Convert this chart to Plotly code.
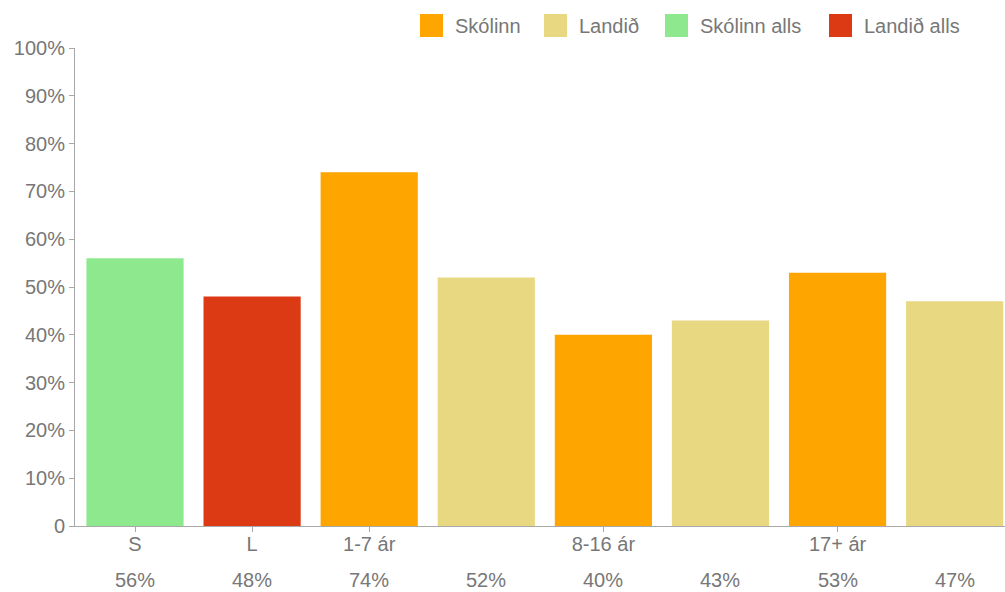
import plotly.graph_objects as go

# ---- data ----
categories = ["S", "L", "1-7 ár", "", "8-16 ár", "", "17+ ár", ""]
series_names = ["Skólinn", "Landið", "Skólinn alls", "Landið alls"]
values = [56, 48, 74, 52, 40, 43, 53, 47]
bar_series = ["Skólinn alls", "Landið alls", "Skólinn", "Landið", "Skólinn", "Landið", "Skólinn", "Landið"]
y_tick_vals = [0, 10, 20, 30, 40, 50, 60, 70, 80, 90, 100]
y_tick_text = ["0", "10%", "20%", "30%", "40%", "50%", "60%", "70%", "80%", "90%", "100%"]

colors = {
    "Skólinn": "#FFA500",
    "Landið": "#E9D882",
    "Skólinn alls": "#8EE98E",
    "Landið alls": "#DB3A14",
}

FONT = "Liberation Sans, Arial, sans-serif"
TXT = "#777777"
AXIS = "#A8A8A8"

W, H = 1005, 592
L, R, T, B = 75, 0, 48, 66
pw, ph = W - L - R, H - T - B


def px_x(px):
    return (px - L) / pw


def px_y(py):
    return (H - B - py) / ph


fig = go.Figure()
xs = list(range(len(values)))
for name in series_names:
    idx = [i for i in xs if bar_series[i] == name]
    fig.add_trace(go.Bar(
        x=[xs[i] for i in idx],
        y=[values[i] for i in idx],
        name=name,
        marker=dict(color=colors[name], line=dict(width=0)),
        width=0.83,
        showlegend=False,
        hoverinfo="x+y",
    ))

# value row under the axis
annotations = []
for i, v in enumerate(values):
    annotations.append(dict(
        x=i, y=px_y(580), xref="x", yref="paper", text=f"{v}%",
        showarrow=False, xanchor="center", yanchor="middle",
        font=dict(family=FONT, size=20, color=TXT),
    ))

# manual legend
legend_sq_x = [420, 544, 665, 829]
shapes = []
for name, sx in zip(series_names, legend_sq_x):
    shapes.append(dict(
        type="rect", xref="paper", yref="paper",
        x0=px_x(sx), x1=px_x(sx + 23), y0=px_y(37), y1=px_y(14),
        fillcolor=colors[name], line=dict(width=0),
    ))
    annotations.append(dict(
        x=px_x(sx + 33), y=px_y(26), xref="paper", yref="paper", text=name,
        showarrow=False, xanchor="left", yanchor="middle",
        font=dict(family=FONT, size=20, color=TXT),
    ))

tick_idx = [i for i, c in enumerate(categories) if c]
fig.update_layout(
    width=W, height=H,
    margin=dict(l=L, r=R, t=T, b=B),
    plot_bgcolor="white", paper_bgcolor="white",
    barmode="overlay",
    font=dict(family=FONT, size=20, color=TXT),
    xaxis=dict(
        range=[-0.5125, 7.43],
        tickmode="array", tickvals=tick_idx, ticktext=[categories[i] for i in tick_idx],
        showline=True, linecolor=AXIS, linewidth=1,
        ticks="outside", ticklen=5, tickcolor=AXIS,
        ticklabelstandoff=-5,
        showgrid=False, zeroline=False,
        tickfont=dict(family=FONT, size=20, color=TXT),
    ),
    yaxis=dict(
        range=[0, 100],
        tickmode="array", tickvals=y_tick_vals, ticktext=y_tick_text,
        showline=True, linecolor=AXIS, linewidth=1,
        ticks="outside", ticklen=5, tickcolor=AXIS,
        showgrid=False, zeroline=False,
        tickfont=dict(family=FONT, size=20, color=TXT),
    ),
    annotations=annotations,
    shapes=shapes,
)

fig.write_html(
    "out.html",
    config={"displayModeBar": False},
    post_script="document.body.style.margin='0';document.body.style.overflow='hidden';",
)
